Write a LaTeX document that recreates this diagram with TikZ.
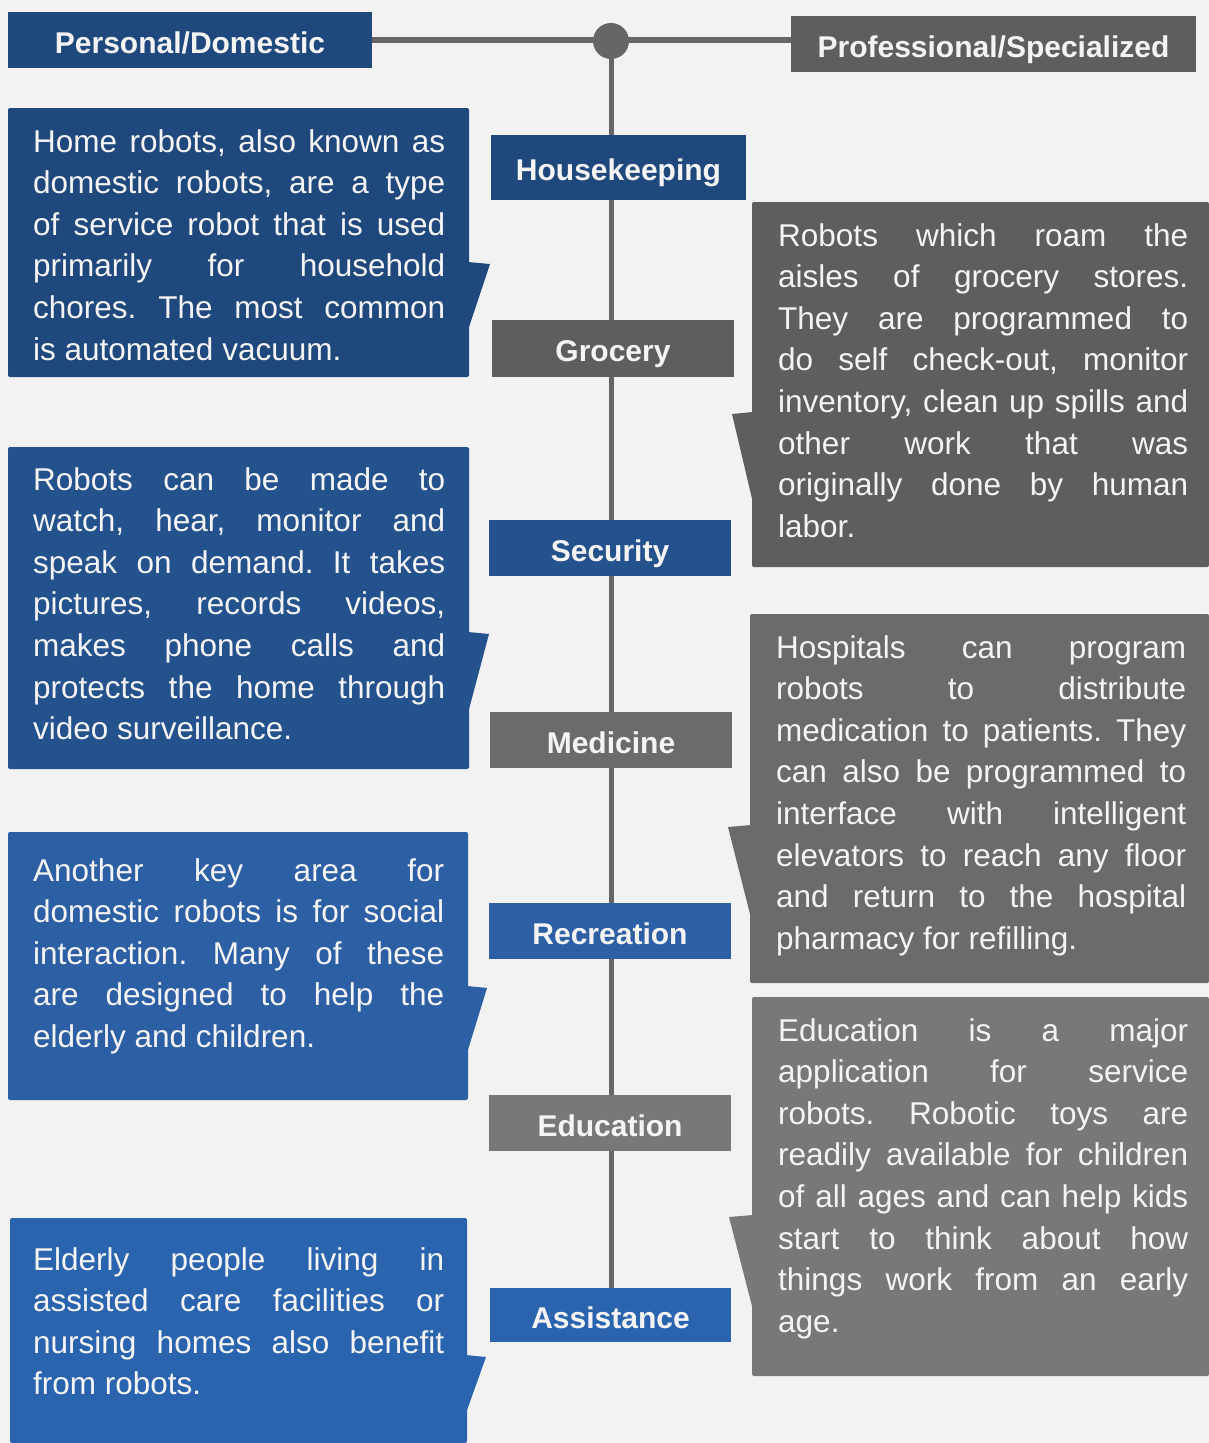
\documentclass[tikz,border=0pt]{standalone}
\usepackage{fontspec}
\setmainfont{Liberation Sans}
\usetikzlibrary{calc}
\frenchspacing
\hyphenpenalty=10000
\exhyphenpenalty=10000
\tolerance=10000
\definecolor{paper}{HTML}{F2F2F2}
\definecolor{txt}{HTML}{F4F4F4}
\definecolor{linegray}{HTML}{666666}
\definecolor{blueA}{HTML}{1F497C}
\definecolor{blueB}{HTML}{23528D}
\definecolor{blueC}{HTML}{2C5FA3}
\definecolor{blueD}{HTML}{2B64AE}
\definecolor{grayA}{HTML}{5E5E5E}
\definecolor{grayB}{HTML}{6B6B6B}
\definecolor{grayC}{HTML}{787878}
\tikzset{
    spine/.style={draw=linegray, line width=5pt},
    catbox/.style={fill=#1, text=txt, font=\fontsize{30}{36}\selectfont\bfseries,
        inner sep=0pt, text height=26pt, text depth=0pt},
    note/.style={text=txt, text width=412pt, align=justify,
        font=\fontsize{31.5}{41.6}\selectfont, inner sep=0pt, anchor=base west},
    hub/.style={shape=circle, fill=linegray, minimum size=36pt, inner sep=0pt},
}

\begin{document}
\begin{tikzpicture}[x=1pt, y=-1pt]
    \useasboundingbox (0,0) rectangle (1209,1443);
    \fill[paper] (0,0) rectangle (1209,1443);
    \foreach \col/\xa/\ya/\xb/\yb/\bx/\ta/\tx/\tb in {
        blueA/8/108/469/377/468/262/490/330,
        blueB/8/447/469/769/468/632/489/713,
        blueC/8/832/468/1100/467/986/487/1053,
        blueD/10/1218/467/1443/466/1355/486/1413,
        grayA/752/202/1209/567/753/412/732/503,
        grayB/750/614/1209/983/751/825/728/918,
        grayC/752/997/1209/1376/753/1215/729/1310} {
        \fill[\col, rounded corners=2pt] (\xa,\ya) rectangle (\xb,\yb);
        \fill[\col] (\bx,\ta) -- (\tx,{\ta+2}) -- (\bx,\tb) -- cycle;
    };
    \node[catbox=blueA, minimum width=364pt, minimum height=56pt] (domestic) at (190,40) {Personal/Domestic};
    \node[catbox=grayA, minimum width=405pt, minimum height=56pt] (special) at (993.5,44) {Professional/Specialized};
    \node[hub] (hub) at (611,41) {};
    \draw[spine, line width=6pt] (domestic.east) -- (domestic.east -| special.west);
    \node[catbox=blueA, minimum width=255pt, minimum height=65pt] (house) at (618.5,167.5) {Housekeeping};
    \node[catbox=grayA, minimum width=242pt, minimum height=57pt] (grocery) at (613,348.5) {Grocery};
    \node[catbox=blueB, minimum width=242pt, minimum height=56pt] (security) at (610,548) {Security};
    \node[catbox=grayB, minimum width=242pt, minimum height=56pt] (medicine) at (611,740) {Medicine};
    \node[catbox=blueC, minimum width=242pt, minimum height=56pt] (recreation) at (610,931) {Recreation};
    \node[catbox=grayC, minimum width=242pt, minimum height=56pt] (education) at (610,1123) {Education};
    \node[catbox=blueD, minimum width=241pt, minimum height=54pt] (assist) at (610.5,1315) {Assistance};
    \foreach \a/\b in {hub/house, house/grocery, grocery/security, security/medicine,
        medicine/recreation, recreation/education, education/assist}
        \draw[spine] (hub |- \a.south) -- (hub |- \b.north);
    \node[note] (homebots) at (33,152) {Home robots, also known as\linebreak
        domestic robots, are a type\linebreak
        of service robot that is used\linebreak
        primarily for household\linebreak
        chores. The most common\linebreak
        is automated vacuum.};
    \node[note] (guard) at (33,490) {Robots can be made to\linebreak
        watch, hear, monitor and\linebreak
        speak on demand. It takes\linebreak
        pictures, records videos,\linebreak
        makes phone calls and\linebreak
        protects the home through\linebreak
        video surveillance.};
    \node[note, text width=411pt] (social) at (33,881) {Another key area for\linebreak
        domestic robots is for social\linebreak
        interaction. Many of these\linebreak
        are designed to help the\linebreak
        elderly and children.};
    \node[note, text width=411pt] (elderly) at (33,1270) {Elderly people living in\linebreak
        assisted care facilities or\linebreak
        nursing homes also benefit\linebreak
        from robots.};
    \node[note, text width=410pt] (aisles) at (778,246) {Robots which roam the\linebreak
        aisles of grocery stores.\linebreak
        They are programmed to\linebreak
        do self check-out, monitor\linebreak
        inventory, clean up spills and\linebreak
        other work that was\linebreak
        originally done by human\linebreak
        labor.};
    \node[note, text width=410pt] (hospital) at (776,658) {Hospitals can program\linebreak
        robots to distribute\linebreak
        medication to patients. They\linebreak
        can also be programmed to\linebreak
        interface with intelligent\linebreak
        elevators to reach any floor\linebreak
        and return to the hospital\linebreak
        pharmacy for refilling.};
    \node[note, text width=410pt] (toys) at (778,1041) {Education is a major\linebreak
        application for service\linebreak
        robots. Robotic toys are\linebreak
        readily available for children\linebreak
        of all ages and can help kids\linebreak
        start to think about how\linebreak
        things work from an early\linebreak
        age.};
\end{tikzpicture}
\end{document}
